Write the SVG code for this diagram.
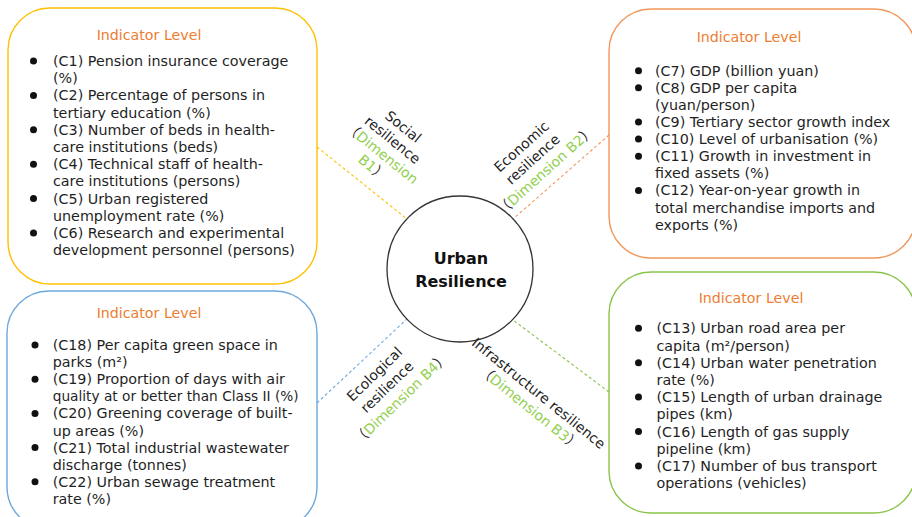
<svg xmlns="http://www.w3.org/2000/svg" width="912" height="517" viewBox="0 0 912 517">
  <style>
    .box { fill: #ffffff; stroke-width: 1.4; }
    .title { font-family: "DejaVu Sans", "Liberation Sans", sans-serif; font-size: 14.2px; fill: #ED7D31; text-anchor: middle; }
    .item { font-family: "DejaVu Sans", "Liberation Sans", sans-serif; font-size: 14.3px; fill: #1f1f1f; }
    .dot { fill: #111111; }
    .lab { font-family: "DejaVu Sans", "Noto Sans CJK SC", sans-serif; font-size: 14px; fill: #1f1f1f; text-anchor: middle; }
    .dim { fill: #92D050; }
    .core { font-family: "DejaVu Sans", "Liberation Sans", sans-serif; font-size: 16px; font-weight: bold; fill: #111111; text-anchor: middle; }
    .link { fill: none; stroke-width: 1.1; stroke-dasharray: 3 2.5; }
  </style>
  <rect width="912" height="517" fill="#ffffff"/>

  <!-- dashed connectors from the centre to each dimension box -->
  <g id="connectors">
    <line class="link" x1="317" y1="147" x2="407" y2="219" stroke="#FFC000"/>
    <line class="link" x1="609" y1="135" x2="513" y2="219" stroke="#F1975A"/>
    <line class="link" x1="317" y1="403" x2="407" y2="319" stroke="#6FA8DC"/>
    <line class="link" x1="609" y1="392" x2="513" y2="320" stroke="#8BC34A"/>
  </g>

  <!-- social dimension (B1) -->
  <g id="box-social">
    <rect class="box" x="8" y="8" width="309" height="276" rx="42" stroke="#FFC000"/>
    <text class="title" x="149" y="40">Indicator Level</text>
    <g class="dot">
      <circle cx="33.5" cy="61" r="3.5"/>
      <circle cx="33.5" cy="95.4" r="3.5"/>
      <circle cx="33.5" cy="129.8" r="3.5"/>
      <circle cx="33.5" cy="164.2" r="3.5"/>
      <circle cx="33.5" cy="198.6" r="3.5"/>
      <circle cx="33.5" cy="233" r="3.5"/>
    </g>
    <text class="item" x="53">
      <tspan x="53" y="66">(C1) Pension insurance coverage</tspan>
      <tspan x="53" y="83.2">(%)</tspan>
      <tspan x="53" y="100.4">(C2) Percentage of persons in</tspan>
      <tspan x="53" y="117.6">tertiary education (%)</tspan>
      <tspan x="53" y="134.8">(C3) Number of beds in health-</tspan>
      <tspan x="53" y="152">care institutions (beds)</tspan>
      <tspan x="53" y="169.2">(C4) Technical staff of health-</tspan>
      <tspan x="53" y="186.4">care institutions (persons)</tspan>
      <tspan x="53" y="203.6">(C5) Urban registered</tspan>
      <tspan x="53" y="220.8">unemployment rate (%)</tspan>
      <tspan x="53" y="238">(C6) Research and experimental</tspan>
      <tspan x="53" y="255.2">development personnel (persons)</tspan>
    </text>
  </g>

  <!-- economic dimension (B2) -->
  <g id="box-economic">
    <rect class="box" x="609" y="9" width="307" height="249" rx="42" stroke="#F1975A"/>
    <text class="title" x="749" y="41.5">Indicator Level</text>
    <g class="dot">
      <circle cx="638.5" cy="70.7" r="3.5"/>
      <circle cx="638.5" cy="87.8" r="3.5"/>
      <circle cx="638.5" cy="122" r="3.5"/>
      <circle cx="638.5" cy="139.1" r="3.5"/>
      <circle cx="638.5" cy="156.2" r="3.5"/>
      <circle cx="638.5" cy="190.4" r="3.5"/>
    </g>
    <text class="item" x="655">
      <tspan x="655" y="75.7">(C7) GDP (billion yuan)</tspan>
      <tspan x="655" y="92.8">(C8) GDP per capita</tspan>
      <tspan x="655" y="109.9">(yuan/person)</tspan>
      <tspan x="655" y="127">(C9) Tertiary sector growth index</tspan>
      <tspan x="655" y="144.1">(C10) Level of urbanisation (%)</tspan>
      <tspan x="655" y="161.2">(C11) Growth in investment in</tspan>
      <tspan x="655" y="178.3">fixed assets (%)</tspan>
      <tspan x="655" y="195.4">(C12) Year-on-year growth in</tspan>
      <tspan x="655" y="212.5">total merchandise imports and</tspan>
      <tspan x="655" y="229.6">exports (%)</tspan>
    </text>
  </g>

  <!-- ecological dimension (B4) -->
  <g id="box-ecological">
    <rect class="box" x="7" y="291" width="310" height="238" rx="42" stroke="#6FA8DC"/>
    <text class="title" x="149" y="318">Indicator Level</text>
    <g class="dot">
      <circle cx="35" cy="345" r="3.5"/>
      <circle cx="35" cy="379.2" r="3.5"/>
      <circle cx="35" cy="413.4" r="3.5"/>
      <circle cx="35" cy="447.6" r="3.5"/>
      <circle cx="35" cy="481.8" r="3.5"/>
    </g>
    <text class="item" x="52.7">
      <tspan x="52.7" y="350">(C18) Per capita green space in</tspan>
      <tspan x="52.7" y="367.1">parks (m²)</tspan>
      <tspan x="52.7" y="384.2">(C19) Proportion of days with air</tspan>
      <tspan x="52.7" y="401.3" textLength="246" lengthAdjust="spacingAndGlyphs">quality at or better than Class II (%)</tspan>
      <tspan x="52.7" y="418.4">(C20) Greening coverage of built-</tspan>
      <tspan x="52.7" y="435.5">up areas (%)</tspan>
      <tspan x="52.7" y="452.6">(C21) Total industrial wastewater</tspan>
      <tspan x="52.7" y="469.7">discharge (tonnes)</tspan>
      <tspan x="52.7" y="486.8">(C22) Urban sewage treatment</tspan>
      <tspan x="52.7" y="503.9">rate (%)</tspan>
    </text>
  </g>

  <!-- infrastructure dimension (B3) -->
  <g id="box-infrastructure">
    <rect class="box" x="609" y="272" width="307" height="241" rx="42" stroke="#8BC34A"/>
    <text class="title" x="751" y="303">Indicator Level</text>
    <g class="dot">
      <circle cx="638.5" cy="328.3" r="3.5"/>
      <circle cx="638.5" cy="362.7" r="3.5"/>
      <circle cx="638.5" cy="397.1" r="3.5"/>
      <circle cx="638.5" cy="431.5" r="3.5"/>
      <circle cx="638.5" cy="465.9" r="3.5"/>
    </g>
    <text class="item" x="656.5">
      <tspan x="656.5" y="333.3">(C13) Urban road area per</tspan>
      <tspan x="656.5" y="350.5">capita (m²/person)</tspan>
      <tspan x="656.5" y="367.7">(C14) Urban water penetration</tspan>
      <tspan x="656.5" y="384.9">rate (%)</tspan>
      <tspan x="656.5" y="402.1">(C15) Length of urban drainage</tspan>
      <tspan x="656.5" y="419.3">pipes (km)</tspan>
      <tspan x="656.5" y="436.5">(C16) Length of gas supply</tspan>
      <tspan x="656.5" y="453.7">pipeline (km)</tspan>
      <tspan x="656.5" y="470.9">(C17) Number of bus transport</tspan>
      <tspan x="656.5" y="488.1">operations (vehicles)</tspan>
    </text>
  </g>

  <!-- central node -->
  <g id="node-urban-resilience">
    <circle cx="460" cy="269" r="73" fill="#ffffff" stroke="#333333" stroke-width="1.3"/>
    <text class="core" x="461" y="263.5">Urban</text>
    <text class="core" x="461" y="286.5">Resilience</text>
  </g>

  <!-- dimension labels along the connectors -->
  <g id="label-social" transform="translate(405 128) rotate(39)">
    <text class="lab">
      <tspan x="0" y="5">Social</tspan>
      <tspan x="0" y="22">resilience</tspan>
      <tspan x="0" y="39">（<tspan class="dim">Dimension</tspan></tspan>
      <tspan x="0" y="56"><tspan class="dim">B1</tspan>）</tspan>
    </text>
  </g>
  <g id="label-economic" transform="translate(523 145) rotate(-42)">
    <text class="lab">
      <tspan x="0" y="5">Economic</tspan>
      <tspan x="0" y="22">resilience</tspan>
      <tspan x="0" y="39">（<tspan class="dim">Dimension B2</tspan>）</tspan>
    </text>
  </g>
  <g id="label-ecological" transform="translate(376 372.5) rotate(-44)">
    <text class="lab">
      <tspan x="0" y="5">Ecological</tspan>
      <tspan x="0" y="23">resilience</tspan>
      <tspan x="0" y="41">（<tspan class="dim">Dimension B4</tspan>）</tspan>
    </text>
  </g>
  <g id="label-infrastructure" transform="translate(540.5 394.5) rotate(39)">
    <text class="lab">
      <tspan x="0" y="5">Infrastructure resilience</tspan>
      <tspan x="0" y="22">（<tspan class="dim">Dimension B3</tspan>）</tspan>
    </text>
  </g>
</svg>
